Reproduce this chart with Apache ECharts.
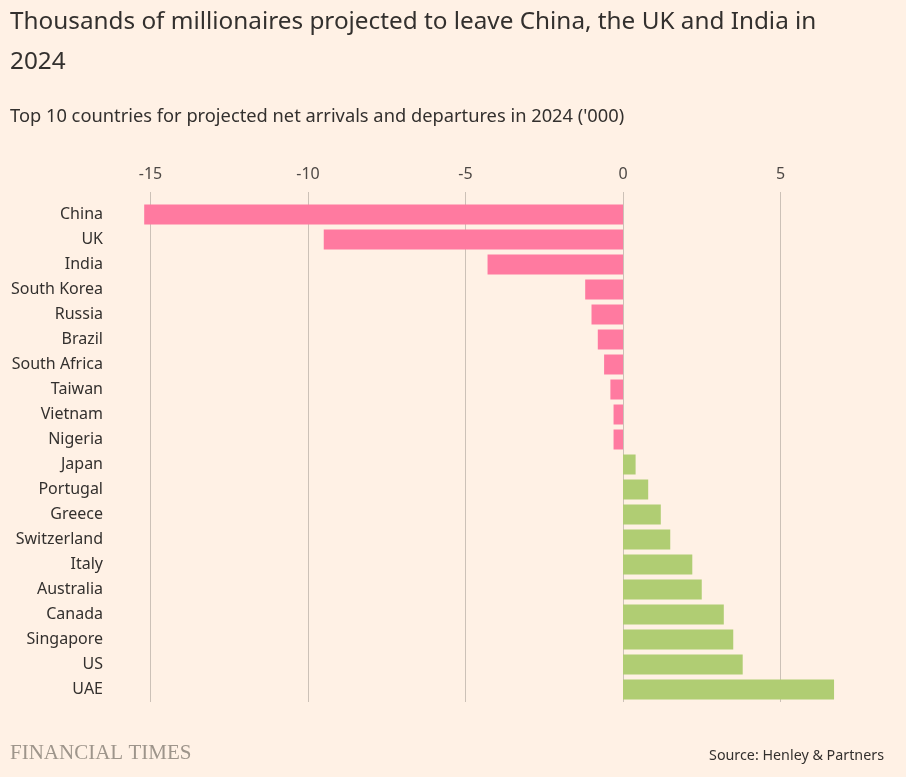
<!DOCTYPE html>
<html><head><meta charset="utf-8">
<script src="https://cdn.jsdelivr.net/npm/echarts@6/dist/echarts.min.js"></script>
<style>html,body{margin:0;padding:0;background:#fff1e5;}#c{width:906px;height:777px;}</style>
</head><body><div id="c"></div>
<script>
const countries = ['China','UK','India','South Korea','Russia','Brazil','South Africa','Taiwan','Vietnam','Nigeria','Japan','Portugal','Greece','Switzerland','Italy','Australia','Canada','Singapore','US','UAE'];
const netFlows = [-15.2,-9.5,-4.3,-1.2,-1.0,-0.8,-0.6,-0.4,-0.3,-0.3,0.4,0.8,1.2,1.5,2.2,2.5,3.2,3.5,3.8,6.7];
const tickValues = [-15,-10,-5,0,5];
const titleText = 'Thousands of millionaires projected to leave China, the UK and India in\n2024';
const subtitleText = "Top 10 countries for projected net arrivals and departures in 2024 ('000)";
const sourceText = 'Source: Henley & Partners';
const brandText = 'FINANCIAL TIMES';

const chart = echarts.init(document.getElementById('c'));
const FONT = '"Noto Sans", sans-serif';
chart.setOption({
  backgroundColor: '#fff1e5',
  animation: false,
  title: [
    {text: titleText, left: 10, top: 2, padding: 0, textStyle: {fontFamily: FONT, fontSize: 24.3, fontWeight: 'normal', color: '#33302e', lineHeight: 40}},
    {text: subtitleText, left: 10, top: 105, padding: 0, textStyle: {fontFamily: FONT, fontSize: 18.3, fontWeight: 'normal', color: '#33302e', lineHeight: 24}}
  ],
  grid: {left: 119, right: 31, top: 202, bottom: 75, containLabel: false},
  xAxis: {
    type: 'value', position: 'top', min: -16, max: 8,
    axisLine: {show: false},
    axisTick: {show: true, length: 10, customValues: tickValues, lineStyle: {color: '#ccc1b7', width: 1}},
    axisLabel: {customValues: tickValues, margin: 20, fontFamily: FONT, fontSize: 16, color: '#4d4845'},
    splitLine: {show: true, lineStyle: {color: '#ccc1b7', width: 1}}
  },
  yAxis: {
    type: 'category', data: countries, inverse: true,
    axisLine: {show: false}, axisTick: {show: false},
    axisLabel: {margin: 16, fontFamily: FONT, fontSize: 16, color: '#33302e', lineHeight: 18, padding: [3, 0, 0, 0]}
  },
  series: [{
    type: 'bar', data: netFlows.map(v => ({value: v, itemStyle: {color: v < 0 ? '#ff7aa0' : '#b0cd73'}})),
    barCategoryGap: '20%'
  }],
  graphic: [
    {type: 'text', left: 10, top: 743, style: {text: brandText, fontFamily: '"Liberation Serif", serif', fontSize: 21, fill: '#9e958b'}},
    {type: 'text', right: 22, top: 749, style: {text: sourceText, fontFamily: FONT, fontSize: 14.3, fill: '#33302e'}}
  ]
});
</script></body></html>
